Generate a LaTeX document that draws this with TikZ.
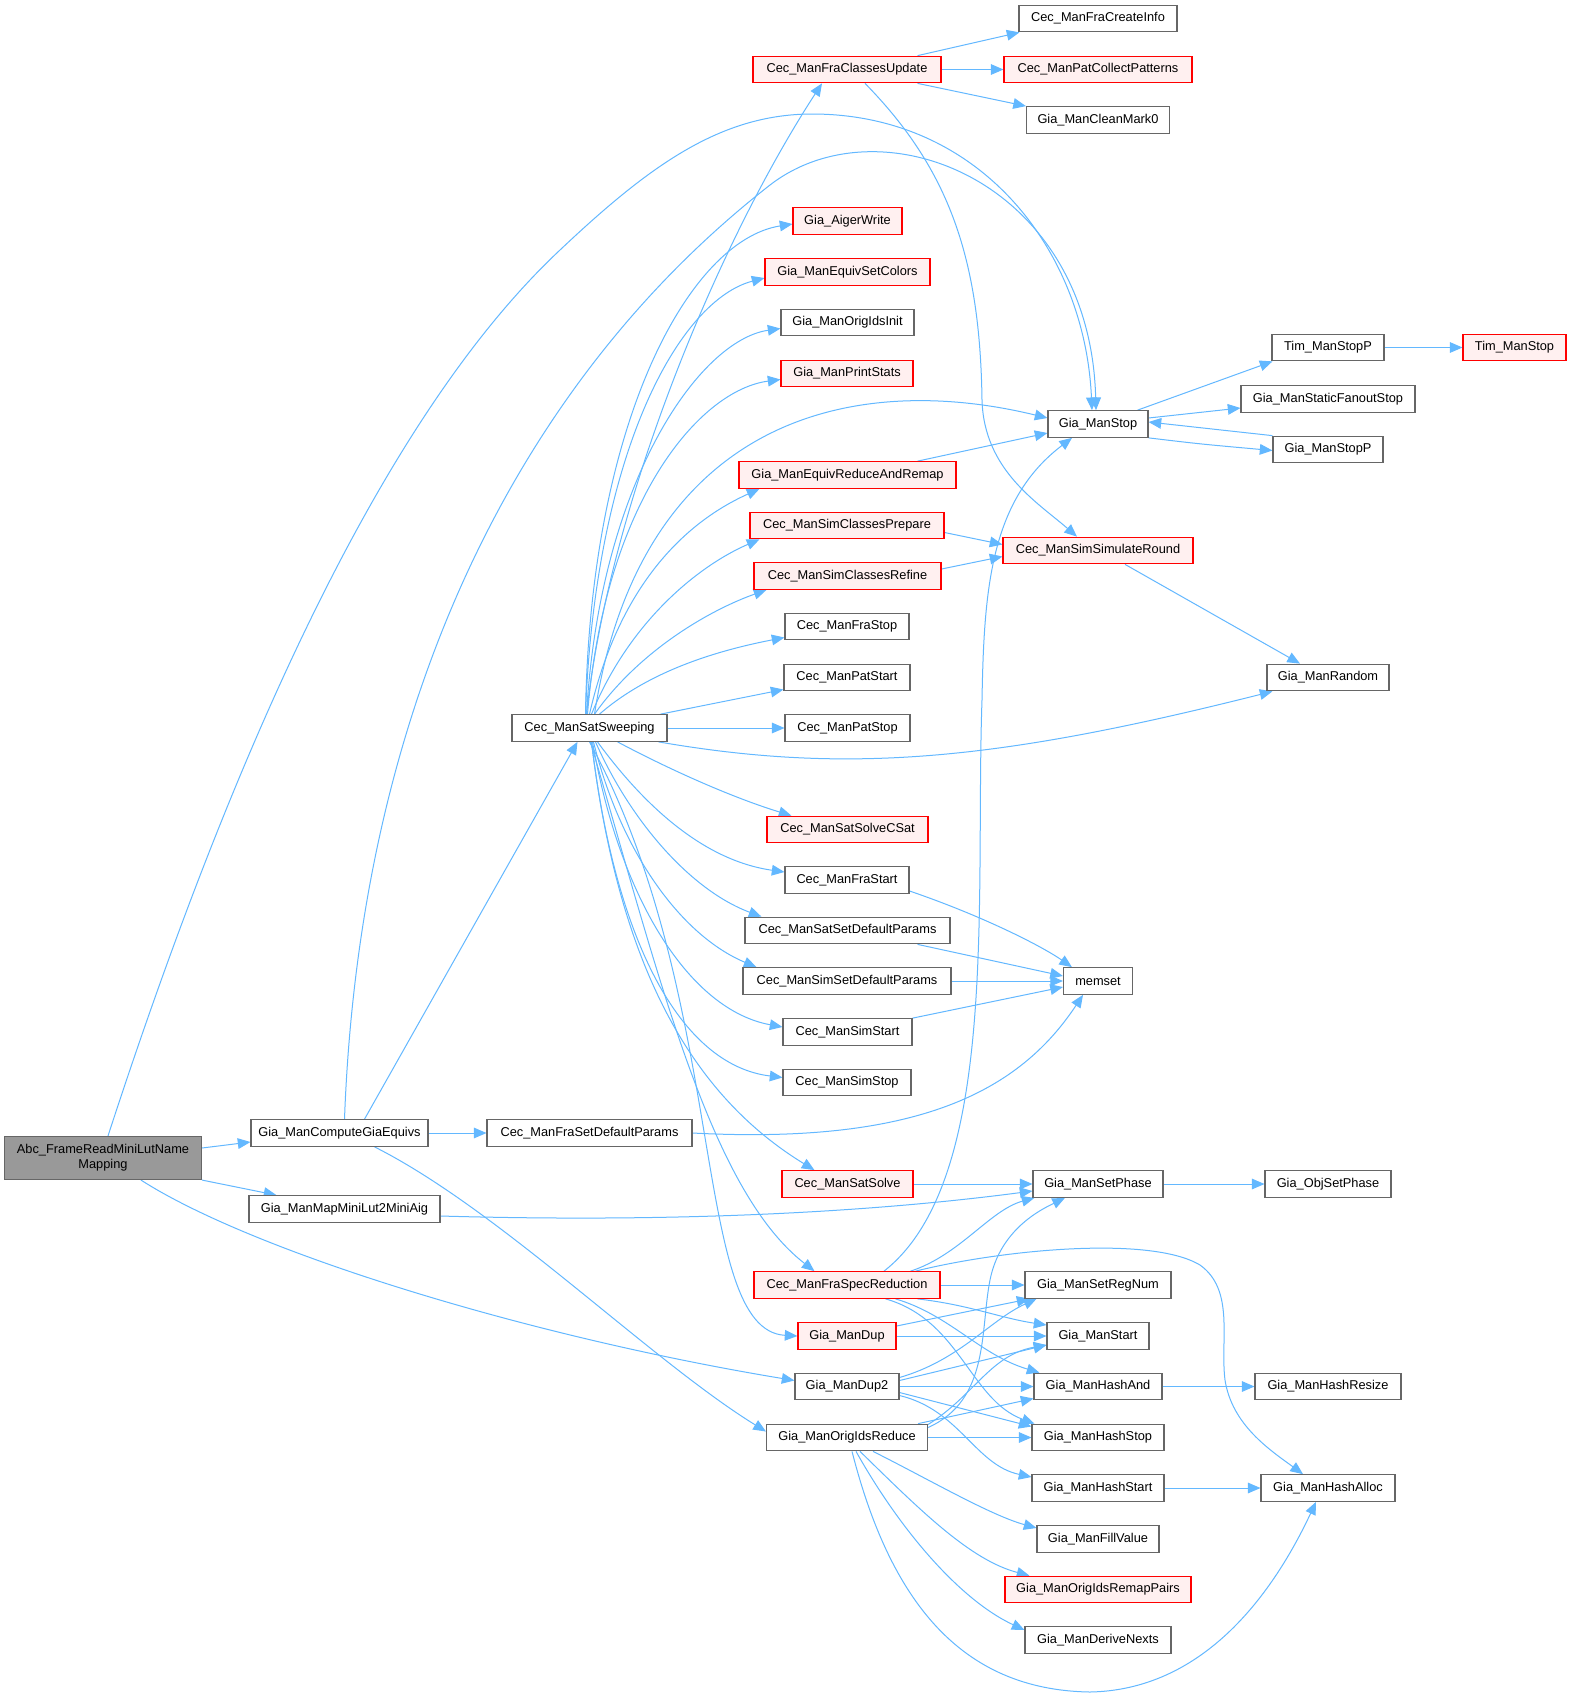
\documentclass[tikz,border=0pt]{standalone}
\usepackage{fontspec}
\setmainfont{Liberation Sans}
\usetikzlibrary{arrows.meta,calc}
\definecolor{edgeblue}{HTML}{63B8FF}
\definecolor{nodegray}{HTML}{666666}
\definecolor{nodered}{HTML}{FF0000}
\definecolor{nodefill}{HTML}{FFF0F0}
\definecolor{rootgray}{HTML}{999999}
\pgfdeclarelayer{back}
\pgfdeclarelayer{edges}
\pgfsetlayers{back,edges,main}
\tikzset{
  boxbase/.style={rectangle, font=\fontsize{9.6}{11.5}\selectfont, minimum height=20pt, inner xsep=1pt, inner ysep=0pt, line width=0.8pt},
  nd/.style={boxbase, draw=nodegray, fill=white},
  rd/.style={boxbase, draw=nodered, fill=nodefill},
  rt/.style={boxbase, draw=nodegray, fill=rootgray, align=center, minimum height=32.3pt},
  bw/.style={minimum width=#1*0.75pt},
  edg/.style={draw=edgeblue, line width=0.75pt, -{Triangle[length=9.5pt,width=8pt]}},
}
\begin{document}
\begin{tikzpicture}[x=0.75pt, y=-0.75pt]
\begin{pgfonlayer}{back}
\fill[white] (0,0) rectangle (1571,1700);
\end{pgfonlayer}
\useasboundingbox (0,0) rectangle (1571,1700);

% nodes
\node[rt, bw=197] (A) at (103,1158) {Abc\_FrameReadMiniLutName\\Mapping};
\node[nd, bw=177] (CGE) at (339.5,1133) {Gia\_ManComputeGiaEquivs};
\node[nd, bw=191] (MML) at (344.5,1209) {Gia\_ManMapMiniLut2MiniAig};
\node[nd, bw=155] (SW) at (589.5,728) {Cec\_ManSatSweeping};
\node[nd, bw=205] (FSD) at (589.5,1133) {Cec\_ManFraSetDefaultParams};
\node[rd, bw=188] (CU) at (847,69.5) {Cec\_ManFraClassesUpdate};
\node[nd, bw=158] (FCI) at (1098,18.5) {Cec\_ManFraCreateInfo};
\node[rd, bw=188] (PCP) at (1098,69.5) {Cec\_ManPatCollectPatterns};
\node[nd, bw=143] (CM0) at (1098,120) {Gia\_ManCleanMark0};
\node[rd, bw=109] (AW) at (847.5,221) {Gia\_AigerWrite};
\node[rd, bw=165] (ESC) at (847.5,272) {Gia\_ManEquivSetColors};
\node[nd, bw=133] (OII) at (847.5,322.5) {Gia\_ManOrigIdsInit};
\node[rd, bw=132] (PS) at (847,373.5) {Gia\_ManPrintStats};
\node[nd, bw=100] (GS) at (1098,424) {Gia\_ManStop};
\node[rd, bw=217] (ERR) at (847.5,475) {Gia\_ManEquivReduceAndRemap};
\node[rd, bw=194] (SCP) at (847,525.5) {Cec\_ManSimClassesPrepare};
\node[rd, bw=187] (SCR) at (847.5,576) {Cec\_ManSimClassesRefine};
\node[rd, bw=190] (SSR) at (1098,550.5) {Cec\_ManSimSimulateRound};
\node[nd, bw=124] (FS) at (847,626.5) {Cec\_ManFraStop};
\node[nd, bw=126] (PSt) at (847,677.5) {Cec\_ManPatStart};
\node[nd, bw=125] (PSp) at (847.5,728) {Cec\_ManPatStop};
\node[nd, bw=122] (GR) at (1328,677.5) {Gia\_ManRandom};
\node[rd, bw=161] (CS) at (847.5,829.5) {Cec\_ManSatSolveCSat};
\node[nd, bw=124] (FSt) at (847,880) {Cec\_ManFraStart};
\node[nd, bw=205] (SSD) at (847.5,930.5) {Cec\_ManSatSetDefaultParams};
\node[nd, bw=208] (SiSD) at (847,981) {Cec\_ManSimSetDefaultParams};
\node[nd, bw=129] (SiSt) at (847.5,1032) {Cec\_ManSimStart};
\node[nd, bw=128] (SiSp) at (847,1082.5) {Cec\_ManSimStop};
\node[nd, bw=69] (MS) at (1098,981) {memset};
\node[rd, bw=131] (SS) at (847.5,1184) {Cec\_ManSatSolve};
\node[nd, bw=130] (SP) at (1098,1184) {Gia\_ManSetPhase};
\node[nd, bw=126] (OSP) at (1328,1184) {Gia\_ObjSetPhase};
\node[rd, bw=186] (FSR) at (847,1285) {Cec\_ManFraSpecReduction};
\node[nd, bw=146] (SRN) at (1098,1285) {Gia\_ManSetRegNum};
\node[rd, bw=98] (DUP) at (847,1336) {Gia\_ManDup};
\node[nd, bw=102] (GST) at (1098,1336) {Gia\_ManStart};
\node[nd, bw=104] (DUP2) at (847,1386.5) {Gia\_ManDup2};
\node[nd, bw=128] (HA) at (1098,1386.5) {Gia\_ManHashAnd};
\node[nd, bw=146] (HR) at (1328,1386.5) {Gia\_ManHashResize};
\node[nd, bw=161] (OIR) at (847,1437.5) {Gia\_ManOrigIdsReduce};
\node[nd, bw=132] (HS) at (1098,1437.5) {Gia\_ManHashStop};
\node[nd, bw=132] (HSt) at (1098,1488) {Gia\_ManHashStart};
\node[nd, bw=134] (HAl) at (1328,1488) {Gia\_ManHashAlloc};
\node[nd, bw=122] (FV) at (1098,1539) {Gia\_ManFillValue};
\node[rd, bw=186] (ORP) at (1098,1589.5) {Gia\_ManOrigIdsRemapPairs};
\node[nd, bw=146] (DN) at (1098,1640) {Gia\_ManDeriveNexts};
\node[nd, bw=112] (TSP) at (1328,347.5) {Tim\_ManStopP};
\node[rd, bw=103] (TS) at (1514.5,347.5) {Tim\_ManStop};
\node[nd, bw=174] (SFS) at (1328,399) {Gia\_ManStaticFanoutStop};
\node[nd, bw=110] (GSP) at (1328,449.5) {Gia\_ManStopP};

\begin{pgfonlayer}{edges}
% Abc
\draw[edg] ($(A.east)+(0,-10)$) -- ($(CGE.west)+(0,9)$);
\draw[edg] (A.south east) -- ($(MML.north west)+(28,0)$);
\draw[edg] ($(A.south)+(38,0)$) .. controls (250,1250) and (520,1335) .. ($(DUP2.west)+(0,-6)$);
\draw[edg] ($(A.north)+(5,0)$) .. controls (250,700) and (400,400) .. (560,250) .. controls (650,165) and (720,115) .. (810,114) .. controls (980,113) and (1085,250) .. ($(GS.north)+(-6,0)$);
% ComputeGiaEquivs
\draw[edg] ($(CGE.north)+(25,0)$) -- ($(SW.south)+(-12,0)$);
\draw[edg] (CGE.east) -- (FSD.west);
\draw[edg] ($(CGE.south)+(35,0)$) .. controls (500,1210) and (650,1360) .. ($(OIR.west)+(0,-6)$);
\draw[edg] ($(CGE.north)+(5,0)$) .. controls (360,700) and (520,380) .. (770,185) .. controls (880,100) and (1090,180) .. ($(GS.north)+(-2,0)$);
% MapMiniLut2MiniAig
\draw[edg] ($(MML.east)+(0,7)$) .. controls (650,1222) and (850,1215) .. ($(SP.west)+(0,7)$);
% FraSetDefaultParams
\draw[edg] (FSD.east) .. controls (920,1145) and (1020,1090) .. ($(MS.south)+(-15,0)$);
% SatSweeping upward
\draw[edg] ($(SW.north)+(-3,0)$) .. controls (610,500) and (720,240) .. ($(CU.south)+(-25,0)$);
\draw[edg] ($(SW.north)+(-4,0)$) .. controls (590,420) and (690,240) .. ($(AW.west)+(0,3)$);
\draw[edg] ($(SW.north)+(-4,0)$) .. controls (595,450) and (680,300) .. ($(ESC.west)+(0,6)$);
\draw[edg] ($(SW.north)+(-3,0)$) .. controls (600,480) and (700,340) .. ($(OII.west)+(0,6)$);
\draw[edg] ($(SW.north)+(-2,0)$) .. controls (605,500) and (700,390) .. ($(PS.west)+(0,6)$);
\draw[edg] ($(SW.north)+(5,0)$) .. controls (640,420) and (850,370) .. ($(GS.west)+(0,-6)$);
\draw[edg] (SW.north) .. controls (620,580) and (690,520) .. ($(ERR.south west)+(21,0)$);
\draw[edg] ($(SW.north)+(2,0)$) .. controls (630,620) and (700,565) .. ($(SCP.south west)+(10,0)$);
\draw[edg] ($(SW.north)+(5,0)$) .. controls (640,650) and (710,610) .. ($(SCR.south west)+(13,0)$);
\draw[edg] ($(SW.north)+(10,0)$) .. controls (650,670) and (720,650) .. ($(FS.west)+(0,11)$);
\draw[edg] ($(SW.north east)+(-7,0)$) -- ($(PSt.west)+(0,12)$);
\draw[edg] (SW.east) -- (PSp.west);
\draw[edg] ($(SW.south east)+(-9,0)$) .. controls (850,775) and (1000,760) .. ($(GR.south west)+(6,0)$);
% SatSweeping downward
\draw[edg] ($(SW.south)+(28,0)$) .. controls (680,775) and (740,800) .. ($(CS.north west)+(25,0)$);
\draw[edg] ($(SW.south)+(8,0)$) .. controls (640,800) and (700,860) .. ($(FSt.west)+(0,-8)$);
\draw[edg] ($(SW.south)+(6,0)$) .. controls (630,820) and (690,890) .. ($(SSD.north west)+(17,0)$);
\draw[edg] ($(SW.south)+(4,0)$) .. controls (620,850) and (680,935) .. ($(SiSD.north west)+(14,0)$);
\draw[edg] ($(SW.south)+(3,0)$) .. controls (620,900) and (690,1010) .. ($(SiSt.west)+(0,-5)$);
\draw[edg] ($(SW.south)+(2,0)$) .. controls (615,940) and (680,1065) .. ($(SiSp.west)+(0,-5)$);
\draw[edg] ($(SW.south)+(2,0)$) .. controls (620,980) and (700,1100) .. ($(SS.north west)+(33,0)$);
\draw[edg] ($(SW.south)+(1,0)$) .. controls (660,980) and (710,1190) .. ($(FSR.north west)+(61,0)$);
\draw[edg] (SW.south) .. controls (730,1000) and (690,1330) .. (DUP.west);
% FraClassesUpdate
\draw[edg] ($(CU.north east)+(-24,0)$) -- ($(FCI.south west)+(1,0)$);
\draw[edg] (CU.east) -- (PCP.west);
\draw[edg] ($(CU.south east)+(-24,0)$) -- (CM0.north west);
\draw[edg] ($(CU.south)+(18,0)$) .. controls (950,170) and (980,260) .. (982,400) .. controls (984,470) and (1037,502) .. ($(SSR.north)+(-21,0)$);
% Gia_ManStop
\draw[edg] ($(GS.north east)+(-11,0)$) -- ($(TSP.south west)+(1,0)$);
\draw[edg] ($(GS.east)+(0,-6)$) -- ($(SFS.west)+(0,9)$);
\draw[edg] (GS.south east) .. controls (1200,444) .. ($(GSP.west)+(0,1)$);
\draw[edg] (GSP.north west) -- ($(GS.east)+(0,-2)$);
\draw[edg] (TSP.east) -- (TS.west);
\draw[edg] ($(ERR.north east)+(-39,0)$) -- ($(GS.west)+(0,9)$);
\draw[edg] ($(FSR.north)+(37,0)$) .. controls (1000,1180) and (975,900) .. (982,700) .. controls (984,590) and (990,500) .. ($(GS.south)+(-26,0)$);
% SimSimulateRound
\draw[edg] ($(SCP.east)+(0,7)$) -- ($(SSR.west)+(0,-6)$);
\draw[edg] ($(SCR.east)+(0,-7)$) -- ($(SSR.west)+(0,6)$);
\draw[edg] ($(SSR.south)+(27,0)$) -- ($(GR.north)+(-28,0)$);
% memset
\draw[edg] ($(FSt.east)+(0,11)$) .. controls (980,915) and (1040,945) .. ($(MS.north west)+(9,0)$);
\draw[edg] ($(SSD.south east)+(-33,0)$) -- ($(MS.west)+(0,-5)$);
\draw[edg] (SiSD.east) -- (MS.west);
\draw[edg] (SiSt.north east) -- ($(MS.west)+(0,6)$);
% straight right-hand links
\draw[edg] (SS.east) -- (SP.west);
\draw[edg] (SP.east) -- (OSP.west);
\draw[edg] (HA.east) -- (HR.west);
\draw[edg] (HSt.east) -- (HAl.west);
% FraSpecReduction
\draw[edg] ($(FSR.north east)+(-30,0)$) .. controls (960,1255) and (990,1210) .. ($(SP.south west)+(2,0)$);
\draw[edg] ($(FSR.north east)+(-25,0)$) .. controls (1000,1250) and (1150,1235) .. (1200,1265) .. controls (1235,1290) and (1220,1340) .. (1225,1380) .. controls (1232,1425) and (1270,1450) .. ($(HAl.north)+(-25,0)$);
\draw[edg] (FSR.east) -- (SRN.west);
\draw[edg] ($(FSR.south east)+(-23,0)$) .. controls (970,1305) and (1000,1318) .. ($(GST.west)+(0,-11)$);
\draw[edg] ($(FSR.south east)+(-45,0)$) .. controls (950,1315) and (980,1355) .. ($(HA.north west)+(6,0)$);
\draw[edg] ($(FSR.south east)+(-55,0)$) .. controls (960,1320) and (970,1400) .. ($(HS.north west)+(3,0)$);
% Gia_ManDup
\draw[edg] ($(DUP.east)+(0,-10)$) -- ($(SRN.south west)+(5,0)$);
\draw[edg] (DUP.east) -- (GST.west);
% Gia_ManDup2
\draw[edg] ($(DUP2.east)+(0,-9)$) .. controls (960,1360) and (990,1320) .. ($(SRN.south west)+(12,0)$);
\draw[edg] ($(DUP2.east)+(0,-6)$) -- ($(GST.west)+(0,9)$);
\draw[edg] (DUP2.east) -- (HA.west);
\draw[edg] ($(DUP2.east)+(0,6)$) -- ($(HS.west)+(0,-11)$);
\draw[edg] ($(DUP2.east)+(0,9)$) .. controls (960,1410) and (975,1465) .. ($(HSt.west)+(0,-11)$);
% Gia_ManOrigIdsReduce
\draw[edg] ($(OIR.east)+(0,-10)$) .. controls (990,1400) and (980,1330) .. (990,1280) .. controls (1000,1230) and (1040,1210) .. ($(SP.south)+(-33,0)$);
\draw[edg] ($(OIR.east)+(0,-13)$) .. controls (975,1395) and (990,1355) .. ($(GST.west)+(0,9)$);
\draw[edg] ($(OIR.north east)+(-10,0)$) -- ($(HA.west)+(0,12)$);
\draw[edg] (OIR.east) -- (HS.west);
\draw[edg] ($(OIR.south)+(26,0)$) .. controls (930,1480) and (990,1515) .. ($(FV.west)+(0,-11)$);
\draw[edg] ($(OIR.south)+(13,0)$) .. controls (920,1510) and (970,1560) .. ($(ORP.north west)+(25,0)$);
\draw[edg] ($(OIR.south)+(9,0)$) .. controls (900,1530) and (960,1600) .. ($(DN.west)+(0,-10)$);
\draw[edg] ($(OIR.south)+(5,0)$) .. controls (890,1600) and (960,1690) .. (1090,1692) .. controls (1200,1690) and (1270,1600) .. ($(HAl.south)+(-12,0)$);
\end{pgfonlayer}
\end{tikzpicture}
\end{document}
